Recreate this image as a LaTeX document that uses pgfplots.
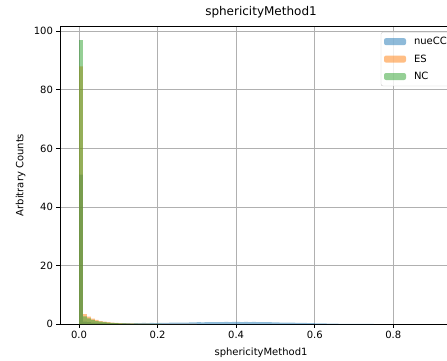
\documentclass[border=0pt]{standalone}
\usepackage{pgfplots}
\pgfplotsset{compat=1.18}
\usepackage{fontspec}
\setmainfont{DejaVu Sans}
\definecolor{tabblue}{HTML}{1F77B4}
\definecolor{taborange}{HTML}{FF7F0E}
\definecolor{tabgreen}{HTML}{2CA02C}
\definecolor{gridgray}{HTML}{B0B0B0}
\begin{document}
\begin{tikzpicture}
\begin{axis}[
  at={(0,0)}, anchor=south west,
  scale only axis, width=402pt, height=298pt,
  xmin=-0.0485, xmax=0.975, ymin=0, ymax=101.8,
  xtick={0,0.2,0.4,0.6,0.8,1.0}, ytick={0,20,40,60,80,100},
  xticklabel style={/pgf/number format/.cd, fixed, fixed zerofill, precision=1},
  /pgf/number format/assume math mode=true,
  tick label style={font=\fontsize{10}{12}\selectfont},
  tick align=outside, xtick pos=left, ytick pos=left,
  major tick length=3.5pt,
  every tick/.style={black, line width=0.8pt},
  axis line style={line width=0.8pt},
  grid=major, major grid style={gridgray, line width=0.8pt},
  title={sphericityMethod1},
  title style={font=\fontsize{12}{14}\selectfont, at={(axis description cs:0.5,1)}, anchor=south, yshift=-2pt},
  xlabel={sphericityMethod1}, ylabel={Arbitrary Counts},
  xlabel style={font=\fontsize{10}{12}\selectfont, at={(axis description cs:0.5,-0.096)}, anchor=center},
  ylabel style={font=\fontsize{10}{12}\selectfont, at={(axis description cs:-0.098,0.5)}, anchor=center},
  legend style={at={(1,1)}, anchor=north east, xshift=-10pt, yshift=-6pt, draw=black!20, rounded corners=2pt, fill=white, fill opacity=0.8, text opacity=1, font=\fontsize{10}{12}\selectfont, inner sep=3pt, row sep=4.5pt, nodes={inner sep=2pt}, /tikz/every odd column/.append style={column sep=6pt}},
  legend cell align=left,
  legend image code/.code={\fill[#1] (0pt,-3.5pt) rectangle (22pt,3.5pt);},
  every legend image post/.style={xshift=2pt},
]
\addplot[ybar interval, fill=tabblue, fill opacity=0.5, draw=none] coordinates {
(0.00,51) (0.01,0.8) (0.02,0.6) (0.03,0.5) (0.04,0.4) (0.05,0.35) (0.06,0.3) (0.07,0.3) (0.08,0.3) (0.09,0.3)
(0.10,0.25) (0.11,0.3) (0.12,0.3) (0.13,0.25) (0.14,0.3) (0.15,0.3) (0.16,0.35) (0.17,0.3) (0.18,0.35) (0.19,0.3)
(0.20,0.35) (0.21,0.4) (0.22,0.4) (0.23,0.45) (0.24,0.45) (0.25,0.5) (0.26,0.5) (0.27,0.5) (0.28,0.55) (0.29,0.55)
(0.30,0.6) (0.31,0.55) (0.32,0.6) (0.33,0.6) (0.34,0.65) (0.35,0.6) (0.36,0.65) (0.37,0.7) (0.38,0.65) (0.39,0.7)
(0.40,0.7) (0.41,0.65) (0.42,0.7) (0.43,0.65) (0.44,0.7) (0.45,0.65) (0.46,0.6) (0.47,0.65) (0.48,0.6) (0.49,0.55)
(0.50,0.55) (0.51,0.5) (0.52,0.5) (0.53,0.45) (0.54,0.45) (0.55,0.4) (0.56,0.4) (0.57,0.35) (0.58,0.3) (0.59,0.3)
(0.60,0.25) (0.61,0.2) (0.62,0.2) (0.63,0.15) (0.64,0.12) (0.65,0.1) (0.66,0.08) (0.67,0.06) (0.68,0.05) (0.69,0.04)
(0.70,0.03) (0.71,0.02) (0.72,0.02) (0.73,0.01) (0.74,0.01) (0.75,0)
};
\addlegendentry{nueCC}
\addplot[ybar interval, fill=taborange, fill opacity=0.5, draw=none] coordinates {
(0.00,88) (0.01,3.4) (0.02,2.5) (0.03,1.8) (0.04,1.4) (0.05,1.0) (0.06,0.8) (0.07,0.6) (0.08,0.5) (0.09,0.4)
(0.10,0.3) (0.11,0.25) (0.12,0.2) (0.13,0.2) (0.14,0.15) (0.15,0.15) (0.16,0.1) (0.17,0.1) (0.18,0.08) (0.19,0.08)
(0.20,0.06) (0.21,0.06) (0.22,0.05) (0.23,0.05) (0.24,0.04) (0.25,0.04) (0.26,0.03) (0.27,0.03) (0.28,0.03) (0.29,0.02)
(0.30,0)
};
\addlegendentry{ES}
\addplot[ybar interval, fill=tabgreen, fill opacity=0.5, draw=none] coordinates {
(0.00,97) (0.01,2.6) (0.02,1.9) (0.03,1.4) (0.04,1.0) (0.05,0.8) (0.06,0.6) (0.07,0.45) (0.08,0.35) (0.09,0.3)
(0.10,0.25) (0.11,0.2) (0.12,0.15) (0.13,0.12) (0.14,0.1) (0.15,0.08) (0.16,0.06) (0.17,0.05) (0.18,0.04) (0.19,0.03)
(0.20,0.02) (0.21,0)
};
\addlegendentry{NC}
\end{axis}
\pgfresetboundingbox
\useasboundingbox (-60pt,-36pt) rectangle (387pt,324pt);
\end{tikzpicture}
\end{document}
